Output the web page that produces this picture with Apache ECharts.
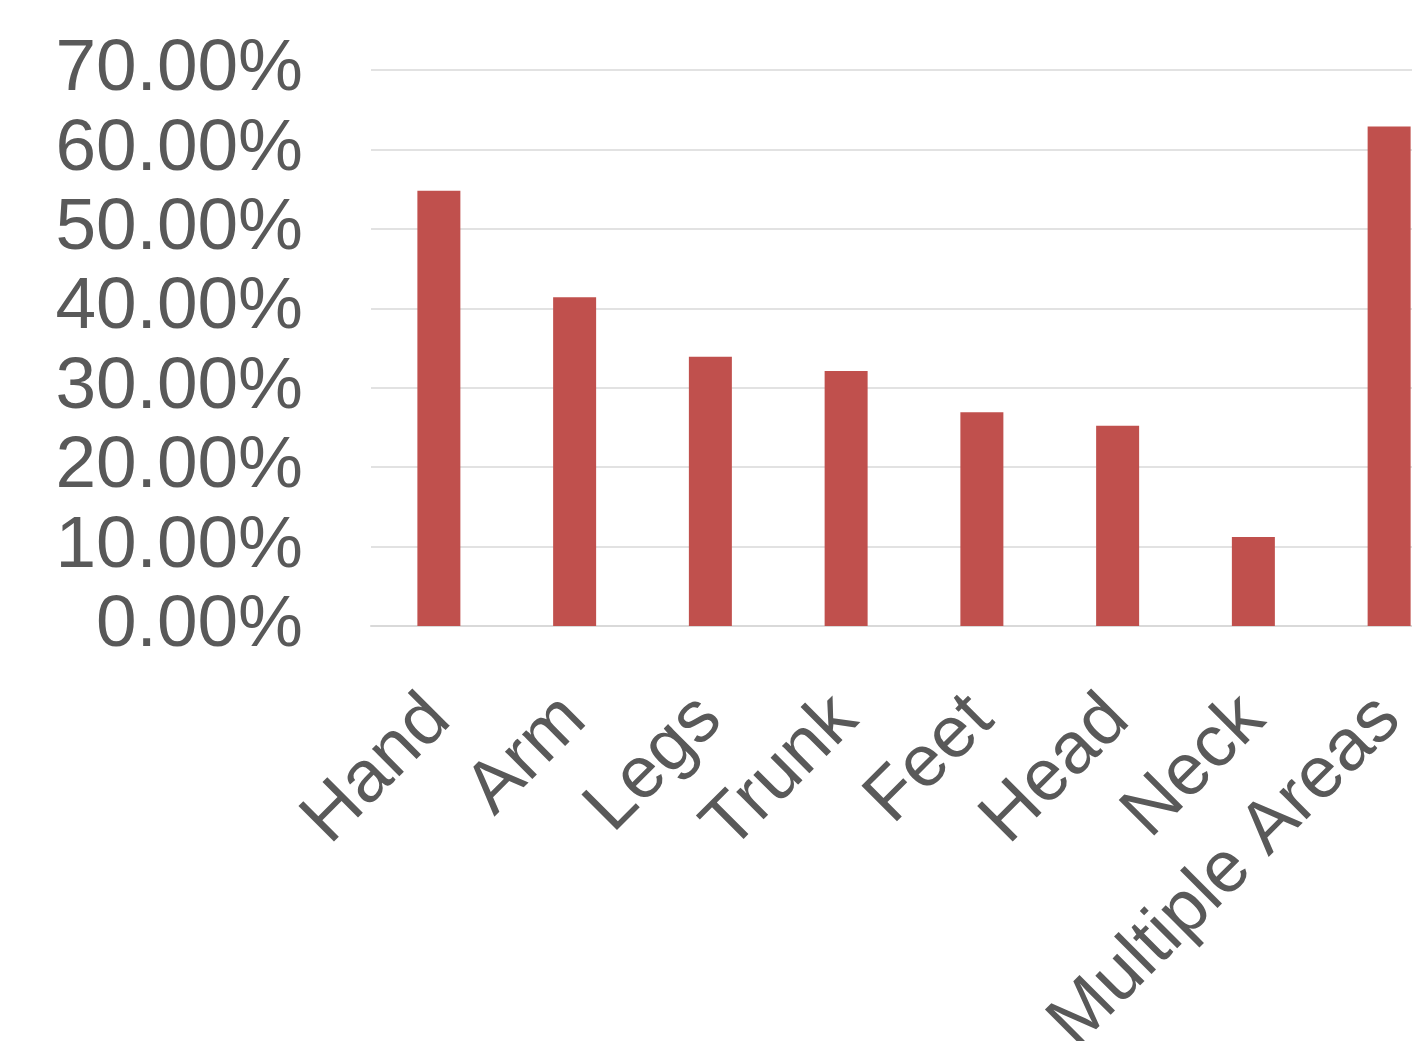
<!DOCTYPE html>
<html>
<head>
<meta charset="utf-8">
<script src="https://cdn.jsdelivr.net/npm/echarts@6/dist/echarts.min.js"></script>
<style>
html,body{margin:0;padding:0;background:#fff;}
#chart{width:1412px;height:1041px;}
</style>
</head>
<body>
<div id="chart"></div>
<script>
var categories = ["Hand", "Arm", "Legs", "Trunk", "Feet", "Head", "Neck", "Multiple Areas"];
var values = [54.8, 41.4, 33.9, 32.1, 26.9, 25.2, 11.2, 62.9];
var yTicks = [0, 10, 20, 30, 40, 50, 60, 70];

var chart = echarts.init(document.getElementById('chart'), null, {renderer: 'canvas'});
chart.setOption({
  animation: false,
  backgroundColor: '#ffffff',
  grid: {left: 371, right: -45, top: 70, bottom: 415, containLabel: false, outerBoundsMode: 'none'},
  xAxis: {
    type: 'category',
    data: categories,
    axisLine: {show: true, lineStyle: {color: '#d9d9d9', width: 2}},
    axisTick: {show: false},
    axisLabel: {
      interval: 0,
      rotate: 45,
      margin: 82,
      color: '#595959',
      fontFamily: 'Liberation Sans, Arial, sans-serif',
      fontSize: 73
    }
  },
  yAxis: {
    type: 'value',
    min: yTicks[0],
    max: yTicks[yTicks.length - 1],
    interval: yTicks[1] - yTicks[0],
    axisLine: {show: false},
    axisTick: {show: false},
    splitLine: {lineStyle: {color: '#d9d9d9', width: 1.5}},
    axisLabel: {
      margin: 68,
      color: '#595959',
      fontFamily: 'Liberation Sans, Arial, sans-serif',
      fontSize: 73,
      padding: [4, 0, 0, 0],
      formatter: function (v) { return v.toFixed(2) + '%'; }
    }
  },
  series: [{
    type: 'bar',
    data: values,
    barWidth: 43,
    itemStyle: {color: '#c0504d'}
  }]
});
</script>
</body>
</html>
